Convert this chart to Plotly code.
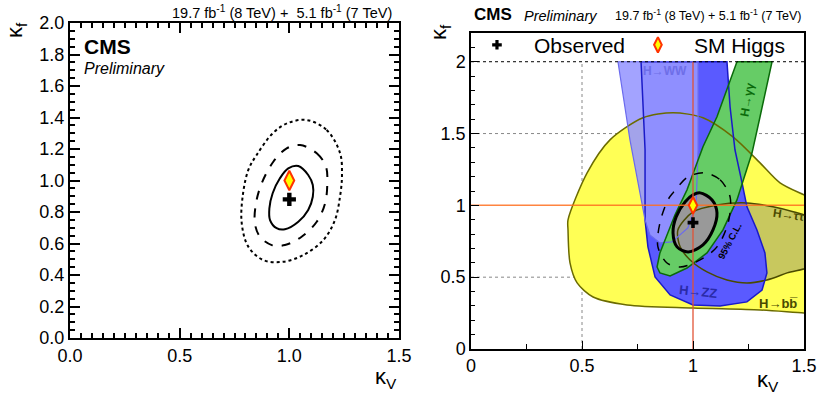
import plotly.graph_objects as go

FONT = "Liberation Sans"

# ---------------- data ----------------
best_kv = [1.0]
best_kf = [0.88]
sm_kv = [1.0]
sm_kf = [1.0]

# left panel: combined likelihood contours
left68_kv = [1.041, 1.086, 1.107, 1.107, 1.086, 1.041, 0.980, 0.942, 0.912, 0.909, 0.924, 0.957, 0.995]
left68_kf = [1.092, 1.035, 0.971, 0.897, 0.813, 0.738, 0.690, 0.697, 0.749, 0.823, 0.919, 1.014, 1.077]
left95_kv = [1.049, 1.125, 1.167, 1.173, 1.163, 1.125, 1.056, 0.980, 0.920, 0.866, 0.843, 0.848, 0.874, 0.927, 0.988]
left95_kf = [1.225, 1.173, 1.088, 0.982, 0.855, 0.738, 0.643, 0.590, 0.590, 0.643, 0.728, 0.855, 0.982, 1.119, 1.204]
left99_kv = [1.079, 1.170, 1.231, 1.240, 1.231, 1.208, 1.155, 1.064, 0.972, 0.881, 0.813, 0.783, 0.787, 0.813, 0.851, 0.926, 0.994]
left99_kf = [1.384, 1.321, 1.175, 1.035, 0.897, 0.749, 0.622, 0.527, 0.484, 0.495, 0.580, 0.728, 0.897, 1.067, 1.162, 1.302, 1.365]

# right panel: per-channel 68% regions
bb_kv = [0.437, 0.437, 0.446, 0.478, 0.550, 0.703, 1.000, 1.302, 1.500, 1.560, 1.560, 1.500, 1.392, 1.302, 1.180, 1.045, 0.910, 0.775, 0.626, 0.523]
bb_kf = [0.899, 0.829, 0.599, 0.460, 0.362, 0.307, 0.286, 0.272, 0.251, 0.248, 1.030, 1.073, 1.157, 1.296, 1.477, 1.610, 1.645, 1.610, 1.456, 1.226]

tautau_kv = [0.932, 1.000, 1.108, 1.243, 1.360, 1.451, 1.560, 1.560, 1.424, 1.333, 1.243, 1.153, 1.063, 0.987, 0.942]
tautau_kf = [0.829, 0.955, 1.003, 1.017, 0.990, 0.955, 0.890, 0.600, 0.530, 0.481, 0.460, 0.481, 0.537, 0.620, 0.711]

zz_kv = [0.766, 0.784, 0.784, 0.797, 0.829, 0.897, 1.000, 1.122, 1.243, 1.311, 1.333, 1.324, 1.288, 1.243, 1.221, 1.189, 1.167, 1.153]
zz_kf = [2.000, 1.387, 0.899, 0.711, 0.502, 0.376, 0.307, 0.300, 0.328, 0.411, 0.530, 0.669, 0.829, 0.990, 1.157, 1.387, 1.686, 2.000]

ww_kv = [0.662, 0.716, 0.784, 0.806, 0.851, 0.905, 0.977, 1.014, 1.023, 1.023]
ww_kf = [2.000, 1.456, 0.899, 0.794, 0.739, 0.746, 0.843, 1.003, 1.387, 2.000]

gg_kv = [1.198, 1.153, 1.108, 1.045, 1.000, 0.973, 0.919, 0.851, 0.838, 0.851, 0.897, 0.973, 1.063, 1.135, 1.198, 1.234, 1.266, 1.302, 1.333, 1.356]
gg_kf = [2.000, 1.805, 1.617, 1.408, 1.226, 1.108, 0.934, 0.669, 0.571, 0.530, 0.509, 0.564, 0.669, 0.829, 1.038, 1.213, 1.366, 1.617, 1.826, 2.000]

# right panel: combined contours
comb68_kv = [1.032, 1.086, 1.108, 1.090, 1.045, 0.978, 0.928, 0.910, 0.924, 0.964, 1.000]
comb68_kf = [1.087, 1.038, 0.948, 0.829, 0.725, 0.676, 0.711, 0.808, 0.920, 1.024, 1.073]
comb95_kv = [1.054, 1.122, 1.167, 1.158, 1.108, 1.032, 0.942, 0.883, 0.842, 0.851, 0.887, 0.910, 0.978]
comb95_kf = [1.226, 1.178, 1.059, 0.878, 0.711, 0.620, 0.571, 0.599, 0.711, 0.878, 1.038, 1.087, 1.199]

channel_labels = ["H→WW", "H→γγ", "H→ττ", "H→bb\u0305", "H→ZZ"]
left_xticks = [0.0, 0.5, 1.0, 1.5]

# ---------------- figure ----------------
W, H = 818, 395
fig = go.Figure()


def closed(xs, ys):
    return list(xs) + [xs[0]], list(ys) + [ys[0]]


def px(x):
    return x / W


def py(y):
    return (H - y) / H


# ----- left panel -----
for xs, ys, dash in [(left99_kv, left99_kf, "dot"), (left95_kv, left95_kf, "dash"), (left68_kv, left68_kf, "solid")]:
    cx, cy = closed(xs, ys)
    fig.add_trace(go.Scatter(x=cx, y=cy, mode="lines", line=dict(color="black", width=2, dash=dash, shape="spline", smoothing=1.0),
                             xaxis="x", yaxis="y", showlegend=False, hoverinfo="skip"))
fig.add_trace(go.Scatter(x=best_kv, y=best_kf, mode="markers", marker=dict(symbol="cross", size=11, color="black"),
                         xaxis="x", yaxis="y", showlegend=False))
fig.add_trace(go.Scatter(x=sm_kv, y=sm_kf, mode="markers",
                         marker=dict(symbol="diamond-tall", size=14, color="#ffff00", line=dict(color="#ff3300", width=2)),
                         xaxis="x", yaxis="y", showlegend=False))

# ----- right panel -----
regions = [
    (bb_kv, bb_kf, "#ffff55", "#6b6b00", 1.5, "spline"),
    (tautau_kv, tautau_kf, "#c8c85e", "#4a4a00", 1.5, "spline"),
    (zz_kv, zz_kf, "#5a5aff", "#1a1ac8", 1.5, "linear"),
    (ww_kv, ww_kf, "rgba(150,150,255,0.88)", "#6a6aee", 1.2, "linear"),
    (gg_kv, gg_kf, "#66cc66", "#0a6a0a", 1.5, "linear"),
]
for xs, ys, fc, lc, lw, shp in regions:
    cx, cy = closed(xs, ys)
    fig.add_trace(go.Scatter(x=cx, y=cy, mode="lines", fill="toself", fillcolor=fc,
                             line=dict(width=0, color=fc, shape=shp, smoothing=0.8),
                             xaxis="x2", yaxis="y2", showlegend=False, hoverinfo="skip"))
cx, cy = closed(comb68_kv, comb68_kf)
fig.add_trace(go.Scatter(x=cx, y=cy, mode="lines", fill="toself", fillcolor="#999999",
                         line=dict(width=0, color="#999999", shape="spline", smoothing=0.9),
                         xaxis="x2", yaxis="y2", showlegend=False, hoverinfo="skip"))
for xs, ys, fc, lc, lw, shp in regions:
    cx, cy = closed(xs, ys)
    fig.add_trace(go.Scatter(x=cx, y=cy, mode="lines", line=dict(width=lw, color=lc, shape=shp, smoothing=0.8),
                             xaxis="x2", yaxis="y2", showlegend=False, hoverinfo="skip"))
cx, cy = closed(comb68_kv, comb68_kf)
fig.add_trace(go.Scatter(x=cx, y=cy, mode="lines", line=dict(width=3, color="black", shape="spline", smoothing=0.9),
                         xaxis="x2", yaxis="y2", showlegend=False, hoverinfo="skip"))
cx, cy = closed(comb95_kv, comb95_kf)
fig.add_trace(go.Scatter(x=cx, y=cy, mode="lines", line=dict(width=1.5, color="black", dash="dash", shape="spline", smoothing=0.9),
                         xaxis="x2", yaxis="y2", showlegend=False, hoverinfo="skip"))

# SM reference lines
KV_MAX, KF_TOP = 1.5, 2.0
fig.add_trace(go.Scatter(x=[0, KV_MAX], y=[sm_kf[0], sm_kf[0]], mode="lines", line=dict(color="rgba(255,110,30,0.85)", width=1.5),
                         xaxis="x2", yaxis="y2", showlegend=False, hoverinfo="skip"))
fig.add_trace(go.Scatter(x=[sm_kv[0], sm_kv[0]], y=[0, KF_TOP], mode="lines", line=dict(color="rgba(225,80,50,0.85)", width=1.5),
                         xaxis="x2", yaxis="y2", showlegend=False, hoverinfo="skip"))

fig.add_trace(go.Scatter(x=best_kv, y=best_kf, mode="markers", marker=dict(symbol="cross", size=9, color="black"),
                         xaxis="x2", yaxis="y2", showlegend=False))
fig.add_trace(go.Scatter(x=sm_kv, y=sm_kf, mode="markers",
                         marker=dict(symbol="diamond-tall", size=12, color="#ffff00", line=dict(color="#ff3300", width=2)),
                         xaxis="x2", yaxis="y2", showlegend=False))

# legend markers (manual legend)
LEG_KF = 2.118
fig.add_trace(go.Scatter(x=[0.117], y=[LEG_KF], mode="markers", marker=dict(symbol="cross", size=8, color="black"),
                         xaxis="x2", yaxis="y2", showlegend=False))
fig.add_trace(go.Scatter(x=[0.842], y=[LEG_KF], mode="markers",
                         marker=dict(symbol="diamond-tall", size=11, color="#ffff00", line=dict(color="#ff3300", width=2)),
                         xaxis="x2", yaxis="y2", showlegend=False))

# grid lines (right panel)
shapes = []
for v in [0.5, 1.5]:
    shapes.append(dict(type="line", xref="x2", yref="y2", x0=0, x1=KV_MAX, y0=v, y1=v,
                       line=dict(color="#888888", width=1, dash="dot"), layer="below"))
shapes.append(dict(type="line", xref="x2", yref="y2", x0=0.5, x1=0.5, y0=0, y1=KF_TOP,
                   line=dict(color="#888888", width=1, dash="dot"), layer="below"))
shapes.append(dict(type="line", xref="x2", yref="y2", x0=0, x1=KV_MAX, y0=KF_TOP, y1=KF_TOP,
                   line=dict(color="black", width=1, dash="dot"), layer="above"))

tickfont = dict(family=FONT, size=18, color="black")
axis_common = dict(showgrid=False, zeroline=False, showline=True, linecolor="black", ticks="inside",
                   tickcolor="black", tickfont=tickfont, automargin=False)

fig.update_layout(
    width=W, height=H, margin=dict(l=0, r=0, t=0, b=0, autoexpand=False), autosize=False,
    paper_bgcolor="white", plot_bgcolor="white",
    xaxis=dict(**axis_common, domain=[px(70), px(399)], range=[0, 1.5], tickvals=left_xticks, tickformat=".1f",
               ticklen=10, linewidth=2, tickwidth=1.5, mirror="allticks", anchor="y",
               minor=dict(ticks="inside", ticklen=5, dtick=0.05, tickcolor="black")),
    yaxis=dict(**axis_common, domain=[py(338), py(23)], range=[0, 2.0], dtick=0.2, tickformat=".1f",
               ticklen=10, linewidth=2, tickwidth=1.5, mirror="allticks", anchor="x",
               minor=dict(ticks="inside", ticklen=5, dtick=0.05, tickcolor="black")),
    xaxis2=dict(**axis_common, domain=[px(471), px(804)], range=[0, 1.5], dtick=0.5,
                ticklen=8, linewidth=1.5, mirror=True, anchor="y2",
                minor=dict(ticks="inside", ticklen=5, dtick=0.25, tickcolor="black")),
    yaxis2=dict(**axis_common, domain=[py(349), py(33)], range=[0, 2.2], dtick=0.5,
                ticklen=8, linewidth=1.5, mirror=True, anchor="x2",
                minor=dict(ticks="inside", ticklen=4, dtick=0.1, tickcolor="black")),
    shapes=shapes,
)

ann = []


def text(x, y, s, size, xanchor="left", yanchor="middle", bold=False, italic=False, color="black", angle=0,
         xref="paper", yref="paper"):
    if bold:
        s = "<b>" + s + "</b>"
    if italic:
        s = "<i>" + s + "</i>"
    ann.append(dict(x=x, y=y, xref=xref, yref=yref, text=s, showarrow=False, xanchor=xanchor, yanchor=yanchor,
                    textangle=angle, font=dict(family=FONT, size=size, color=color)))


# left panel texts
text(px(394), py(12), "19.7 fb<sup>-1</sup> (8 TeV) +&nbsp; 5.1 fb<sup>-1</sup> (7 TeV)", 14.5, xanchor="right")
text(px(82), py(47), "CMS", 21, bold=True)
text(px(82), py(68), "Preliminary", 16, italic=True)
text(px(16), py(30), "κ<sub>f</sub>", 22, xanchor="center", angle=-90)
text(px(399), py(378), "κ<sub>V</sub>", 22, xanchor="right")

# right panel texts
text(px(472), py(15), "CMS", 17, bold=True)
text(px(522), py(16), "Preliminary", 14.5, italic=True)
text(px(803), py(15), "19.7 fb<sup>-1</sup> (8 TeV) + 5.1 fb<sup>-1</sup> (7 TeV)", 12.5, xanchor="right")
text(px(440), py(32), "κ<sub>f</sub>", 22, xanchor="center", angle=-90)
text(px(781), py(381), "κ<sub>V</sub>", 22, xanchor="right")
text(px(532), py(45), "Observed", 21)
text(px(692), py(45), "SM Higgs", 21)

# channel labels
text(0.874, 1.937, channel_labels[0], 12, xanchor="center", bold=True, color="#6e6ee8", xref="x2", yref="y2")
text(1.243, 1.735, channel_labels[1], 12, xanchor="center", bold=True, color="#0a6a0a", angle=-80, xref="x2", yref="y2")
text(1.433, 0.934, channel_labels[2], 12, xanchor="center", bold=True, color="#4a4a00", angle=8, xref="x2", yref="y2")
text(1.383, 0.315, channel_labels[3], 13, xanchor="center", bold=True, color="#4a4a00", xref="x2", yref="y2")
text(1.023, 0.397, channel_labels[4], 13, xanchor="center", bold=True, color="#2a2aa8", angle=6, xref="x2", yref="y2")
text(1.167, 0.753, "95% C.L.", 9.5, xanchor="center", bold=True, angle=-62, xref="x2", yref="y2")

fig.update_layout(annotations=ann)
fig.write_html("out.html", config={"displayModeBar": False},
               post_script="document.body.style.margin='0';document.body.style.padding='0';document.body.style.overflow='hidden';")
